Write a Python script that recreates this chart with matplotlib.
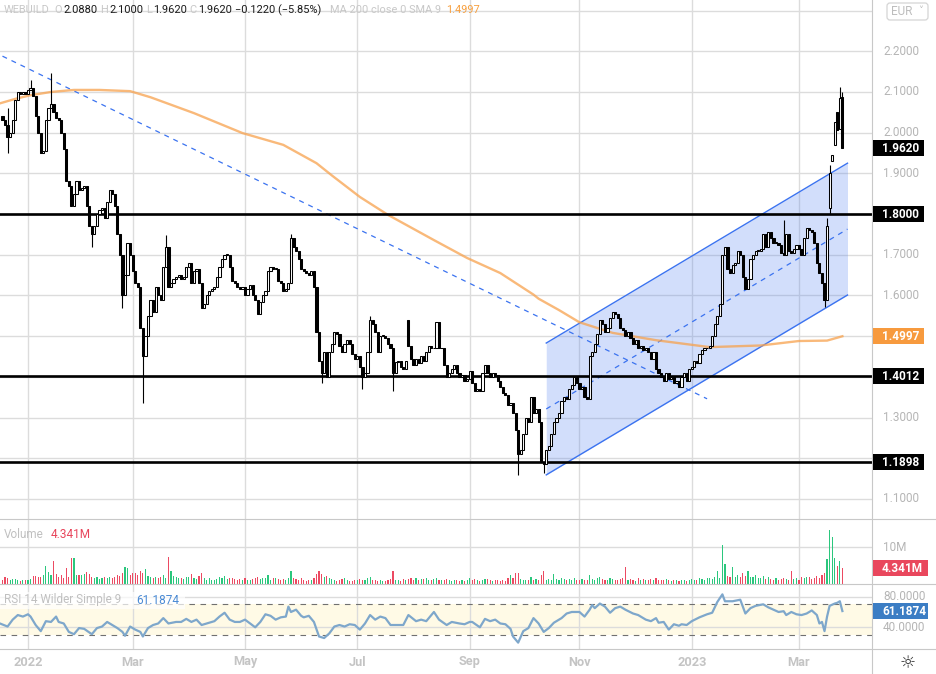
import numpy as np
import pandas as pd
import matplotlib
matplotlib.use("Agg")
import matplotlib.pyplot as plt
from matplotlib.patches import Rectangle, FancyBboxPatch

plt.rcParams['font.family'] = ['Roboto', 'DejaVu Sans']

# ---------------- data ----------------
first_day = "2021-12-20"   # first candle, one candle per business day

closes = [
    2.03, 2.02, 1.99, 2.00, 2.03, 2.08, 2.10, 2.095, 2.10, 2.095,
    2.105, 2.11, 2.09, 2.04, 2.00, 1.95, 1.955, 2.03, 2.06, 2.07,
    2.05, 2.035, 2.03, 2.00, 1.96, 1.88, 1.87, 1.82, 1.85, 1.88,
    1.86, 1.865, 1.87, 1.82, 1.77, 1.75, 1.77, 1.80, 1.81, 1.815,
    1.79, 1.83, 1.86, 1.85, 1.82, 1.75, 1.70, 1.60, 1.65, 1.73,
    1.70, 1.66, 1.63, 1.62, 1.52, 1.45, 1.50, 1.55, 1.59, 1.56,
    1.62, 1.60, 1.59, 1.67, 1.72, 1.62, 1.63, 1.64, 1.645, 1.65,
    1.64, 1.645, 1.67, 1.68, 1.63, 1.66, 1.665, 1.63, 1.57, 1.58,
    1.60, 1.61, 1.615, 1.62, 1.645, 1.67, 1.69, 1.70, 1.70, 1.67,
    1.635, 1.63, 1.62, 1.615, 1.62, 1.60, 1.615, 1.625, 1.60, 1.59,
    1.555, 1.585, 1.60, 1.61, 1.66, 1.67, 1.665, 1.665, 1.635, 1.63,
    1.61, 1.615, 1.63, 1.74, 1.72, 1.71, 1.69, 1.665, 1.66, 1.655,
    1.65, 1.66, 1.62, 1.51, 1.44, 1.41, 1.46, 1.40, 1.46, 1.48,
    1.51, 1.505, 1.475, 1.46, 1.48, 1.49, 1.48, 1.455, 1.445, 1.45,
    1.425, 1.40, 1.41, 1.46, 1.54, 1.53, 1.51, 1.46, 1.50, 1.50,
    1.495, 1.48, 1.47, 1.41, 1.437, 1.44, 1.425, 1.42, 1.44, 1.475,
    1.445, 1.43, 1.445, 1.435, 1.45, 1.44, 1.46, 1.475, 1.47, 1.47,
    1.535, 1.47, 1.47, 1.43, 1.40, 1.41, 1.42, 1.43, 1.41, 1.40,
    1.405, 1.39, 1.395, 1.415, 1.385, 1.365, 1.37, 1.365, 1.41, 1.43,
    1.41, 1.40, 1.41, 1.405, 1.39, 1.375, 1.36, 1.355, 1.33, 1.335,
    1.31, 1.27, 1.21, 1.22, 1.26, 1.30, 1.29, 1.35, 1.31, 1.32,
    1.29, 1.19, 1.185, 1.22, 1.23, 1.26, 1.29, 1.30, 1.31, 1.34,
    1.35, 1.345, 1.37, 1.38, 1.40, 1.385, 1.37, 1.375, 1.35, 1.345,
    1.45, 1.46, 1.48, 1.505, 1.54, 1.53, 1.51, 1.52, 1.545, 1.56,
    1.555, 1.545, 1.52, 1.515, 1.50, 1.51, 1.495, 1.48, 1.49, 1.47,
    1.475, 1.465, 1.47, 1.46, 1.445, 1.46, 1.42, 1.41, 1.40, 1.39,
    1.41, 1.395, 1.40, 1.385, 1.39, 1.375, 1.40, 1.41, 1.39, 1.42,
    1.425, 1.44, 1.435, 1.455, 1.465, 1.47, 1.47, 1.475, 1.50, 1.53,
    1.55, 1.58, 1.70, 1.72, 1.665, 1.655, 1.675, 1.68, 1.71, 1.70,
    1.645, 1.615, 1.64, 1.69, 1.70, 1.71, 1.71, 1.715, 1.75, 1.72,
    1.755, 1.74, 1.73, 1.73, 1.725, 1.705, 1.70, 1.75, 1.71, 1.705,
    1.715, 1.725, 1.715, 1.70, 1.74, 1.765, 1.76, 1.755, 1.73, 1.68,
    1.655, 1.63, 1.59, 1.77, 1.90, 1.945, 2.025, 2.006, 2.085, 1.962,
]
first_open = 2.04
# candle number -> open where the day gapped away from the previous close
gap_opens = {159: 1.54, 324: 1.815, 325: 1.93, 326: 1.97, 327: 2.05, 328: 2.01, 329: 2.088}
# candle number -> visible wick ends
wick_highs = {2: 2.06, 11: 2.13, 19: 2.146, 64: 1.748, 113: 1.75, 144: 1.55,
              306: 1.785, 323: 1.79, 324: 1.92, 328: 2.112, 329: 2.100}
wick_lows = {2: 1.95, 35: 1.72, 47: 1.57, 55: 1.336, 125: 1.385, 141: 1.37,
             153: 1.365, 202: 1.159, 212: 1.164, 322: 1.571, 324: 1.80}

volumes = [  # millions
    1.2, 2.0, 1.5, 1.0, 1.3, 1.4, 1.1, 0.9, 1.0, 1.2,
    1.1, 1.3, 2.2, 2.1, 2.0, 1.8, 2.5, 4.8, 3.2, 2.4,
    6.1, 2.6, 1.8, 2.3, 1.6, 4.3, 2.0, 7.0, 7.0, 2.4,
    2.4, 2.3, 2.6, 3.2, 2.8, 2.0, 1.6, 1.8, 1.4, 1.6,
    2.0, 1.5, 2.0, 1.6, 1.9, 2.4, 2.2, 3.0, 4.5, 4.3,
    2.5, 2.9, 3.1, 2.5, 3.4, 3.0, 4.0, 2.2, 1.9, 1.6,
    1.9, 1.6, 2.0, 2.3, 1.7, 7.2, 3.4, 2.2, 1.8, 1.5,
    1.6, 1.3, 1.8, 2.0, 2.6, 1.5, 1.4, 2.2, 2.9, 1.7,
    1.2, 1.5, 1.1, 1.0, 1.4, 1.8, 1.6, 2.2, 1.3, 1.5,
    1.6, 1.4, 1.2, 1.3, 1.1, 1.5, 1.2, 1.0, 1.4, 1.5,
    2.0, 1.3, 1.5, 1.6, 2.5, 1.1, 1.7, 1.5, 1.4, 1.2,
    1.3, 1.0, 1.5, 3.4, 1.6, 1.4, 1.2, 1.5, 1.0, 0.9,
    1.0, 1.2, 1.7, 2.8, 3.5, 2.6, 2.0, 2.2, 1.6, 1.4,
    1.2, 0.9, 1.1, 1.3, 1.5, 1.0, 0.8, 0.9, 1.2, 1.0,
    1.3, 1.2, 1.0, 1.6, 2.0, 1.2, 1.0, 0.9, 1.1, 0.8,
    0.9, 1.0, 1.3, 3.6, 1.2, 1.0, 0.9, 1.4, 1.0, 1.3,
    1.5, 1.1, 1.5, 1.2, 1.4, 1.3, 1.5, 1.2, 1.0, 1.4,
    1.5, 1.1, 1.2, 1.0, 1.3, 1.1, 0.9, 1.0, 1.2, 0.9,
    1.1, 0.9, 1.2, 1.5, 1.0, 1.3, 1.1, 0.9, 1.0, 1.3,
    1.4, 1.0, 0.9, 1.0, 1.2, 0.8, 1.0, 0.9, 1.5, 2.4,
    1.6, 3.0, 3.0, 1.4, 1.2, 1.0, 1.1, 1.8, 1.0, 1.3,
    1.2, 2.5, 3.6, 1.0, 1.3, 1.1, 2.7, 1.4, 1.1, 1.6,
    1.4, 1.0, 1.3, 1.2, 1.5, 1.1, 1.0, 1.3, 1.1, 1.2,
    2.3, 1.4, 1.2, 1.5, 1.8, 1.3, 1.2, 1.0, 1.5, 1.4,
    1.1, 1.0, 1.3, 1.5, 4.5, 1.2, 1.3, 1.1, 0.9, 1.6,
    1.2, 1.4, 1.0, 1.1, 1.3, 1.0, 1.5, 1.2, 1.1, 1.0,
    1.3, 1.0, 0.9, 1.1, 1.2, 0.9, 1.0, 1.2, 0.8, 1.0,
    1.3, 1.1, 1.0, 1.5, 1.4, 1.2, 1.6, 1.5, 1.4, 2.0,
    3.6, 1.6, 10.6, 5.4, 2.2, 1.8, 4.5, 2.0, 2.4, 2.0,
    3.0, 2.2, 3.6, 2.0, 1.8, 2.4, 1.6, 1.5, 2.2, 1.4,
    1.9, 1.3, 1.1, 1.5, 1.2, 1.4, 1.6, 1.3, 1.0, 3.4,
    1.4, 1.6, 1.2, 2.0, 1.5, 1.8, 2.0, 1.3, 1.6, 2.2,
    1.7, 2.4, 3.0, 6.8, 14.7, 12.6, 7.0, 4.8, 6.3, 4.341,
]

# MA 200 read at a few candles
ma_pos = [-1, 5, 11, 19, 28, 38, 50, 58, 75, 94, 110, 123, 129, 140, 144, 151,
          169, 182, 195, 208, 210, 218, 226, 239, 256, 277, 297, 312, 323, 329]
ma_vals = [2.072, 2.083, 2.092, 2.100, 2.105, 2.105, 2.102, 2.087, 2.048, 1.999,
           1.970, 1.925, 1.895, 1.842, 1.826, 1.798, 1.736, 1.692, 1.655, 1.602,
           1.592, 1.564, 1.534, 1.508, 1.490, 1.473, 1.477, 1.488, 1.489, 1.4997]

# RSI 14 (Wilder)
rsi_pos = [-1, 2, 4, 6, 8, 10, 11, 13, 15, 17, 19, 21, 22, 24, 26, 28, 30, 32, 35, 37,
           39, 41, 43, 45, 47, 48, 50, 52, 54, 55, 57, 59, 61, 63, 65, 68, 70, 72, 74, 76,
           78, 80, 83, 85, 87, 89, 91, 93, 95, 97, 99, 101, 103, 105, 107, 109, 111, 112, 113, 115,
           117, 118, 120, 122, 124, 126, 128, 130, 132, 134, 136, 138, 140, 142, 144, 146, 148, 150, 152, 155,
           157, 159, 162, 164, 166, 167, 169, 171, 174, 176, 179, 181, 183,
           184, 187, 189, 191, 193, 195, 197, 199, 200, 202, 204, 206, 208, 210, 212, 214, 216, 219, 221, 223,
           226, 228, 230, 231, 232, 234, 236, 238, 240, 242, 244, 247, 249, 252, 254, 256, 257, 259, 260, 261,
           263, 265, 266, 268, 270, 273, 276, 278, 280, 282, 283, 286, 289, 291, 293, 295, 298, 300, 302, 304,
           306, 307, 309, 311, 313, 315, 317, 319, 320, 321, 322, 323, 324, 326, 327, 328, 329]
rsi_vals = [45, 41, 50, 56, 54, 57, 54, 43, 35, 48, 47, 54, 47, 45, 34, 31, 39, 38, 31, 39,
            41, 47, 43, 39, 34, 29, 41, 37, 34, 28, 39, 43, 45, 52, 45, 47, 47, 51, 47, 50,
            43, 45, 48, 54, 59, 50, 47, 47, 50, 45, 40, 47, 57, 55, 50, 53, 54, 67, 60, 63,
            55, 53, 55, 47, 28, 26, 32, 41, 43, 41, 44, 43, 37, 45, 56, 50, 54, 52, 43, 43,
            43, 56, 48, 50, 48, 52, 60, 50, 43, 47, 45, 44, 47,
            47, 40, 51, 48, 50, 45, 44, 38, 28, 20, 35, 39, 52, 45, 34, 39, 46, 52, 58, 60,
            60, 54, 63, 69, 65, 71, 67, 59, 65, 67, 63, 58, 56, 50, 48, 52, 46, 47, 42, 37,
            44, 42, 44, 43, 48, 53, 57, 59, 73, 83, 74, 74, 76, 58, 65, 68, 70, 66, 63, 60,
            61, 56, 60, 57, 56, 58, 62, 56, 45, 47, 35, 54, 68, 71, 72, 74, 61.1874]

# drawing tools
trend_pos, trend_vals = [0, 276], [2.188, 1.346]
channel_pos = [213, 331]
channel_upper = [1.483, 1.925]
channel_lower = [1.159, 1.601]
levels = [1.8000, 1.4012, 1.1898]

price_ticks = [1.1, 1.2, 1.3, 1.4, 1.5, 1.6, 1.7, 1.8, 1.9, 2.0, 2.1, 2.2, 2.3]
month_starts = ["2022-01-01", "2022-03-01", "2022-05-01", "2022-07-01",
                "2022-09-01", "2022-11-01", "2023-01-01", "2023-03-01"]
month_labels = ["2022", "Mar", "May", "Jul", "Sep", "Nov", "2023", "Mar"]

last_ohlc = [("O", "2.0880"), ("H", "2.1000"), ("L", "1.9620"), ("C", "1.9620")]
last_change = "\u22120.1220 (\u22125.85%)"
ma_last = 1.4997
vol_last = 4.341
rsi_last = 61.1874

# ---------------- prepare candles ----------------
n = len(closes)
pos = np.arange(n)
dates = pd.bdate_range(first_day, periods=n)
c = np.array(closes)
o = np.array([gap_opens.get(i, closes[i - 1] if i else first_open) for i in range(n)])
hi = np.maximum(o, c)
lo = np.minimum(o, c)
for i, v in wick_highs.items():
    hi[i] = v
for i, v in wick_lows.items():
    lo[i] = v
up = c >= o

# ---------------- figure / panels ----------------
W, H = 936, 674
PR = 872  # right edge of plotting area (px)


def box(x0, y0, x1, y1):
    return [x0 / W, 1 - y1 / H, (x1 - x0) / W, (y1 - y0) / H]


fig = plt.figure(figsize=(W / 100, H / 100), dpi=100, facecolor='white')
ax = fig.add_axes(box(0, 0, PR, 519))
axv = fig.add_axes(box(0, 519, PR, 584))
axr = fig.add_axes(box(0, 584, PR, 649))

grid_c = '#dcdcdc'
xlim = (-0.97, 340.6)
tick_pos = [dates.searchsorted(pd.Timestamp(s)) for s in month_starts]
for a in (ax, axv, axr):
    a.set_xlim(*xlim)
    a.set_xticks([])
    a.set_yticks([])
    for s in a.spines.values():
        s.set_visible(False)

# main price panel
ax.set_ylim(1.0506, 2.326)
for t in tick_pos:
    ax.axvline(t, color=grid_c, lw=1, zorder=0)
for v in price_ticks:
    ax.axhline(v, color=grid_c, lw=1, zorder=0)
ax.fill_between(channel_pos, channel_lower, channel_upper, color='#4d7ff0', alpha=0.25, lw=0, zorder=1)
ax.plot(channel_pos, channel_upper, color='#3b73f0', lw=1, zorder=2)
ax.plot(channel_pos, channel_lower, color='#3b73f0', lw=1, zorder=2)
ax.plot(channel_pos, [(a + b) / 2 for a, b in zip(channel_upper, channel_lower)],
        color='#3b73f0', lw=0.9, ls=(0, (4, 4)), zorder=2)
ax.plot(trend_pos, trend_vals, color='#3b73f0', lw=0.9, ls=(0, (4, 4)), zorder=2)
ax.plot(ma_pos, ma_vals, color='#f7a24e', alpha=0.75, lw=1.7, zorder=2)
for v in levels:
    ax.axhline(v, color='black', lw=1.9, zorder=3)
ax.vlines(pos, lo, hi, color='black', lw=0.8, zorder=4)
ax.bar(pos, np.maximum(np.abs(c - o), 0.002), bottom=np.minimum(c, o), width=0.85,
       color=np.where(up, 'white', 'black'), edgecolor='black', linewidth=0.75, zorder=5)

# volume panel
axv.set_ylim(0, 17.57)
for t in tick_pos:
    axv.axvline(t, color=grid_c, lw=1, zorder=0)
axv.axhline(10, color=grid_c, lw=1, zorder=0)
axv.bar(pos, volumes, width=0.45, color=np.where(up, '#2bc77d', '#ec4a62'), zorder=2)

# RSI panel
axr.set_ylim(11.7, 96.5)
axr.axhspan(30, 70, color='#fffae6', lw=0, zorder=0)
for t in tick_pos:
    axr.axvline(t, color=grid_c, lw=1, zorder=0.5)
for v in (40, 80):
    axr.axhline(v, color=grid_c, lw=1, zorder=0.5)
for v in (30, 70):
    axr.axhline(v, color='#707070', lw=0.8, ls=(0, (5, 5)), zorder=1)
axr.plot(rsi_pos, rsi_vals, color='#7ea7cb', lw=1.6, zorder=2)

# ---------------- overlay: labels, badges, separators ----------------
ov = fig.add_axes([0, 0, 1, 1])
ov.set_xlim(0, W)
ov.set_ylim(H, 0)
ov.axis('off')
ov.patch.set_alpha(0)
renderer = fig.canvas.get_renderer()


def ypx(a, v):
    return H - a.transData.transform((0, v))[1]


def xpx(v):
    return ax.transData.transform((v, 0))[0]


sep = '#c8c8c8'
for y in (519, 584, 649):
    ov.plot([0, W], [y, y], color=sep, lw=0.8)
ov.plot([PR, PR], [0, H], color=sep, lw=0.8)

lab_c = '#b5b5b5'
fs = 8.5

# badges on the right axis
badges = [(ypx(ax, closes[-1]), f'{closes[-1]:.4f}', '#000000', 51)]
badges += [(ypx(ax, v), f'{v:.4f}', '#000000', 51) for v in levels]
badges += [(ypx(ax, ma_last), f'{ma_last:.4f}', '#f79a3e', 51),
           (ypx(axv, vol_last), f'{vol_last:.3f}M', '#e9475d', 55),
           (ypx(axr, rsi_last), f'{rsi_last:.4f}', '#3b7dc4', 55)]
badge_y = [b[0] for b in badges]

for v in price_ticks[:-1]:
    y = ypx(ax, v)
    if min(abs(y - by) for by in badge_y) < 13:
        continue  # hidden behind a badge
    ov.text(883, y, f'{v:.4f}', color=lab_c, fontsize=fs, va='center', ha='left')
ov.text(883, ypx(axv, 10), '10M', color=lab_c, fontsize=fs, va='center', ha='left')
for v in (80, 40):
    ov.text(883, ypx(axr, v), f'{v:.4f}', color=lab_c, fontsize=fs, va='center', ha='left')

for y, text, fc, w in badges:
    ov.add_patch(Rectangle((873, y - 8), w, 16, fc=fc, ec='none', zorder=5))
    ov.text(882, y + 0.5, text, color='white', fontsize=8.5, fontweight='bold',
            va='center', ha='left', zorder=6)

# month labels
for t, lab in zip(tick_pos, month_labels):
    ov.text(xpx(t), 662, lab, ha='center', va='center', color='#c4c4c4',
            fontsize=9.2, fontweight='bold')

# header line, laid out left to right
hfs = 7.9
gray_h = '#c8c8c8'
pieces = [('WEBUILD', gray_h, 5)]
for k, val in last_ohlc:
    pieces += [(k, gray_h, 1), (val, '#1a1a1a', 3)]
pieces += [(last_change, '#1a1a1a', 9), ('MA 200 close 0 SMA 9', gray_h, 5),
           (f'{ma_last:.4f}', '#f7a040', 0)]
hx = 4
for text, col, gap in pieces:
    t = ov.text(hx, 10, text, color=col, fontsize=hfs, va='center', ha='left')
    hx = t.get_window_extent(renderer).x1 + gap

# panel titles
ov.text(4, 534, 'Volume', color='#c0c0c0', fontsize=fs, va='center')
ov.text(51, 534, f'{vol_last:.3f}M', color='#e8455b', fontsize=fs, va='center')
ov.add_patch(Rectangle((0, 592), 185, 17, fc='white', ec='none', alpha=0.7, zorder=3))
ov.text(4, 600, 'RSI 14 Wilder Simple 9', color='#c0c0c0', fontsize=fs, va='center', zorder=4)
ov.text(136, 600, f'{rsi_last:.4f}', color='#4a8ad4', fontsize=fs, va='center', zorder=4)

# currency button and settings icon
ov.add_patch(FancyBboxPatch((887, 3), 41, 17, boxstyle='round,pad=0,rounding_size=3',
                            fc='white', ec='#d5d5d5', lw=0.9))
ov.text(891, 11.5, 'EUR', color='#bdbdbd', fontsize=fs, va='center')
ov.text(918, 11.5, '\u02c5', color='#bdbdbd', fontsize=7, va='center', family='DejaVu Sans')
ov.text(908, 663, '\u263c', color='#333333', fontsize=13, ha='center', va='center',
        family='DejaVu Sans')

fig.savefig('out.png', dpi=100)
